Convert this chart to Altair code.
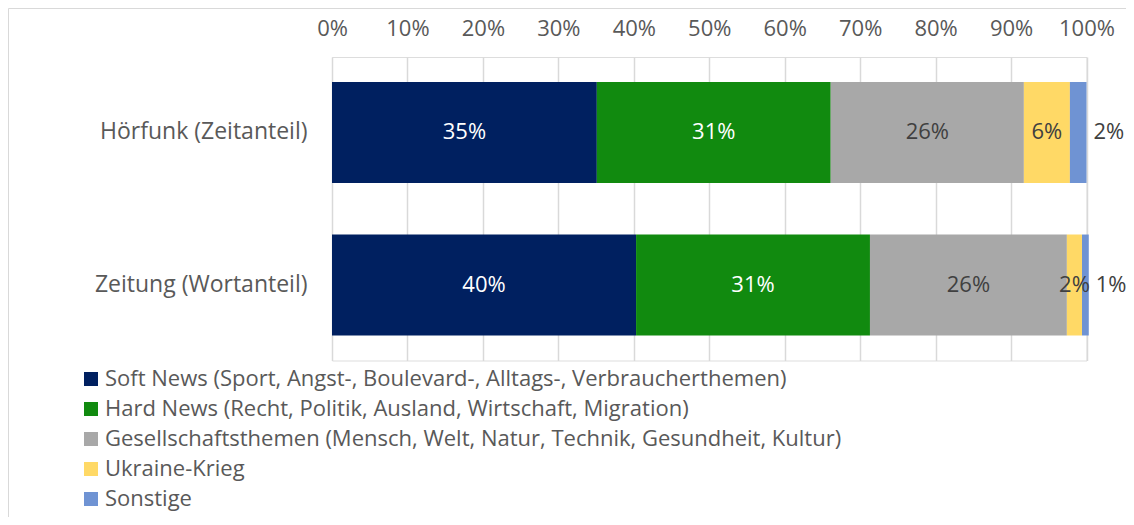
import altair as alt
import pandas as pd

categories = ["Hörfunk (Zeitanteil)", "Zeitung (Wortanteil)"]
series = [
    "Soft News (Sport, Angst-, Boulevard-, Alltags-, Verbraucherthemen)",
    "Hard News (Recht, Politik, Ausland, Wirtschaft, Migration)",
    "Gesellschaftsthemen (Mensch, Welt, Natur, Technik, Gesundheit, Kultur)",
    "Ukraine-Krieg",
    "Sonstige",
]
colors = ["#002060", "#118a0f", "#a8a8a8", "#ffd966", "#6f93d3"]
label_colors = ["#ffffff", "#ffffff", "#404040", "#404040", "#404040"]
hoerfunk = [35.1, 31.0, 25.6, 6.1, 2.2]
zeitung = [40.3, 31.0, 26.1, 2.0, 0.9]
tick_values = [0, 10, 20, 30, 40, 50, 60, 70, 80, 90, 100]

rows = []
for cat, vals in zip(categories, [hoerfunk, zeitung]):
    start = 0.0
    for i, (s, v) in enumerate(zip(series, vals)):
        end = start + v
        last = i == len(series) - 1
        rows.append({
            "cat": cat, "series": s, "order": i, "value": v,
            "start": start, "end": end,
            "mid": end if last else (start + end) / 2,
            "label": f"{round(v)}%",
            "lcolor": label_colors[i],
            "outside": last,
        })
        start = end
df = pd.DataFrame(rows)

FONT = "Open Sans"
TXT = "#595959"

x = alt.X("start:Q", scale=alt.Scale(domain=[0, 100], nice=False, zero=True),
          axis=alt.Axis(orient="top", values=tick_values, labelExpr="datum.value + '%'",
                        title=None, domain=False, ticks=False, grid=True,
                        gridColor="#d9d9d9", gridWidth=1.5, labelFont=FONT,
                        labelFontSize=22, labelColor=TXT, labelPadding=17,
                        labelOverlap=False, labelFlush=False))
y = alt.Y("cat:N", sort=categories,
          scale=alt.Scale(paddingInner=0.338, paddingOuter=0.164),
          axis=alt.Axis(title=None, domain=False, ticks=False, labelFont=FONT,
                        labelFontSize=23, labelColor=TXT, labelPadding=25, labelLimit=400))

bars = alt.Chart(df).mark_bar().encode(
    x=x, x2="end:Q", y=y,
    color=alt.Color("series:N", sort=series,
                    scale=alt.Scale(domain=series, range=colors),
                    legend=alt.Legend(title=None, orient="none", legendX=-252, legendY=311,
                                      symbolType="square", symbolSize=196, symbolStrokeWidth=0,
                                      labelFont=FONT, labelFontSize=22, labelColor=TXT,
                                      labelLimit=1000, rowPadding=8, labelOffset=3,
                                      direction="vertical")),
    order=alt.Order("order:Q"),
)

inner = alt.Chart(df[~df["outside"]]).mark_text(font=FONT, fontSize=22, align="center",
                                                baseline="middle").encode(
    x=alt.X("mid:Q"), y=alt.Y("cat:N", sort=categories), text="label:N",
    color=alt.Color("lcolor:N", scale=None),
)
outer = alt.Chart(df[df["outside"]]).mark_text(font=FONT, fontSize=22, align="left",
                                               baseline="middle", dx=7, color="#404040").encode(
    x=alt.X("mid:Q"), y=alt.Y("cat:N", sort=categories), text="label:N",
)

border = alt.Chart(pd.DataFrame({"a": [0]})).mark_rect(
    fill=None, stroke="#d9d9d9", strokeWidth=1).encode(
    x=alt.value(-323.5), x2=alt.value(900), y=alt.value(-48.5), y2=alt.value(600))

chart = alt.layer(border, bars, inner, outer).properties(
    width=754.5, height=303.5,
    autosize=alt.AutoSizeParams(type="none"),
    padding={"left": 324, "top": 49, "right": 39, "bottom": 156},
).configure_view(stroke=None).configure(font=FONT)

chart.save("out.html", embed_options={"renderer": "svg", "actions": False})
